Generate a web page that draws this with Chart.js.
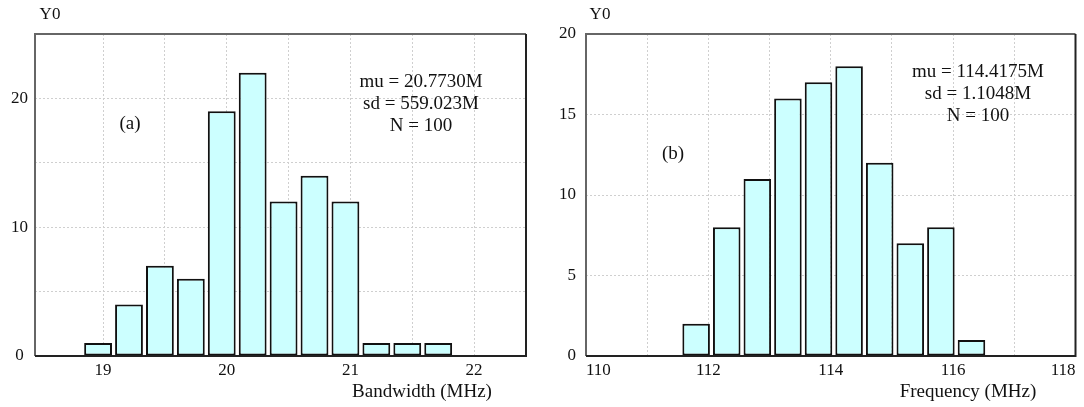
<!DOCTYPE html>
<html><head><meta charset="utf-8">
<script src="https://cdn.jsdelivr.net/npm/chart.js@4/dist/chart.umd.min.js"></script>
<style>
html,body{margin:0;padding:0;background:#fff;}
#wrap{position:relative;width:1084px;height:407px;overflow:hidden;}
.box{position:absolute;top:0;height:407px;}
#ba{left:0;width:540px;} #bb{left:540px;width:544px;}
</style></head><body>
<div id="wrap"><div class="box" id="ba"><canvas id="ca"></canvas></div><div class="box" id="bb"><canvas id="cb"></canvas></div></div>
<script>
// ---- data (a) Bandwidth histogram ----
const binCentersA = [18.96, 19.21, 19.46, 19.71, 19.96, 20.21, 20.46, 20.71, 20.96, 21.21, 21.46, 21.71];
const countsA     = [1, 4, 7, 6, 19, 22, 12, 14, 12, 1, 1, 1];
const xGridA      = [19, 19.5, 20, 20.5, 21, 21.5, 22];
const xLabelsA    = [19, 20, 21, 22];
const yGridA      = [0, 5, 10, 15, 20, 25];
const yLabelsA    = [0, 10, 20];
const statsA      = ['mu = 20.7730M', 'sd = 559.023M', 'N = 100'];
// ---- data (b) Frequency histogram ----
const binCentersB = [111.80, 112.30, 112.80, 113.30, 113.80, 114.30, 114.80, 115.30, 115.80, 116.30];
const countsB     = [2, 8, 11, 16, 17, 18, 12, 7, 8, 1];
const xGridB      = [110, 111, 112, 113, 114, 115, 116, 117, 118];
const xLabelsB    = [110, 112, 114, 116, 118];
const yGridB      = [0, 5, 10, 15, 20];
const yLabelsB    = [0, 5, 10, 15, 20];
const statsB      = ['mu = 114.4175M', 'sd = 1.1048M', 'N = 100'];

const FONT = 'Liberation Serif';

function makeChart(id, c) {
  const deco = {
    id: 'deco' + id,
    afterDatasetsDraw(chart) {
      const ctx = chart.ctx, a = chart.chartArea;
      ctx.save();
      ctx.lineWidth = 2;
      ctx.strokeStyle = '#666';
      ctx.beginPath();
      ctx.moveTo(a.left, a.bottom); ctx.lineTo(a.left, a.top); ctx.lineTo(a.right, a.top);
      ctx.stroke();
      ctx.strokeStyle = '#222';
      ctx.beginPath();
      ctx.moveTo(a.right, a.top); ctx.lineTo(a.right, a.bottom); ctx.lineTo(a.left, a.bottom);
      ctx.stroke();
      ctx.restore();
    },
    afterDraw(chart) {
      const ctx = chart.ctx;
      ctx.save();
      ctx.fillStyle = '#111';
      ctx.textBaseline = 'middle';
      ctx.textAlign = 'center';
      ctx.font = c.tickSize + 'px "' + FONT + '"';
      ctx.fillText('Y0', c.y0Pos[0], c.y0Pos[1]);
      ctx.font = c.textSize + 'px "' + FONT + '"';
      c.stats.forEach((s, i) => ctx.fillText(s, c.statsPos[0], c.statsPos[1] + i * c.statsStep));
      ctx.fillText(c.tag, c.tagPos[0], c.tagPos[1]);
      ctx.fillText(c.xTitle, c.xTitlePos[0], c.xTitlePos[1]);
      ctx.restore();
    }
  };
  return new Chart(document.getElementById(id), {
    type: 'bar',
    data: {
      datasets: [{
        data: c.centers.map((x, i) => ({ x: x, y: c.counts[i] })),
        backgroundColor: '#ccffff',
        borderColor: '#111',
        borderWidth: 2,
        borderSkipped: false,
        barPercentage: 0.9,
        categoryPercentage: 1.0
      }]
    },
    options: {
      responsive: true,
      maintainAspectRatio: false,
      animation: false,
      devicePixelRatio: 1,
      layout: { padding: { top: c.padTop, right: c.padRight, left: 0, bottom: 0 } },
      plugins: { legend: { display: false }, tooltip: { enabled: false } },
      scales: {
        x: {
          type: 'linear',
          offset: false,
          min: c.xmin, max: c.xmax,
          afterBuildTicks: ax => { ax.ticks = c.xGrid.map(v => ({ value: v })); },
          afterFit: s => { s.height = c.xAxisH; },
          grid: { color: '#cfcfcf', lineWidth: 1, drawTicks: false, offset: false },
          border: { display: false, dash: [2, 2] },
          ticks: {
            autoSkip: false, maxRotation: 0, padding: 4, align: c.xAlign,
            color: '#111', font: { family: FONT, size: c.tickSize },
            callback: v => c.xLabels.includes(v) ? String(v) : ''
          }
        },
        y: {
          type: 'linear',
          min: 0, max: c.ymax,
          afterBuildTicks: ax => { ax.ticks = c.yGrid.map(v => ({ value: v })); },
          afterFit: s => { s.width = c.yAxisW; },
          grid: { color: '#cfcfcf', lineWidth: 1, drawTicks: false },
          border: { display: false, dash: [2, 2] },
          ticks: {
            autoSkip: false, padding: c.yPad, crossAlign: c.yCross,
            color: '#111', font: { family: FONT, size: c.tickSize },
            callback: v => c.yLabels.includes(v) ? String(v) : ''
          }
        }
      }
    },
    plugins: [deco]
  });
}

makeChart('ca', {
  centers: binCentersA, counts: countsA,
  xmin: 18.45, xmax: 22.42, ymax: 25,
  xGrid: xGridA, xLabels: xLabelsA, yGrid: yGridA, yLabels: yLabelsA,
  padTop: 34, padRight: 14, xAxisH: 51, yAxisW: 35, yPad: 7, yCross: 'center', xAlign: 'center',
  tickSize: 17, textSize: 19,
  stats: statsA, statsPos: [421, 82], statsStep: 22,
  tag: '(a)', tagPos: [130, 124],
  y0Pos: [50, 15],
  xTitle: 'Bandwidth (MHz)', xTitlePos: [422, 392]
});
makeChart('cb', {
  centers: binCentersB, counts: countsB,
  xmin: 110, xmax: 118, ymax: 20,
  xGrid: xGridB, xLabels: xLabelsB, yGrid: yGridB, yLabels: yLabelsB,
  padTop: 34, padRight: 8.5, xAxisH: 51, yAxisW: 46, yPad: 10, yCross: 'near', xAlign: 'inner',
  tickSize: 17, textSize: 19,
  stats: statsB, statsPos: [438, 72], statsStep: 22,
  tag: '(b)', tagPos: [133, 154],
  y0Pos: [60, 15],
  xTitle: 'Frequency (MHz)', xTitlePos: [428, 392]
});
</script>
</body></html>
